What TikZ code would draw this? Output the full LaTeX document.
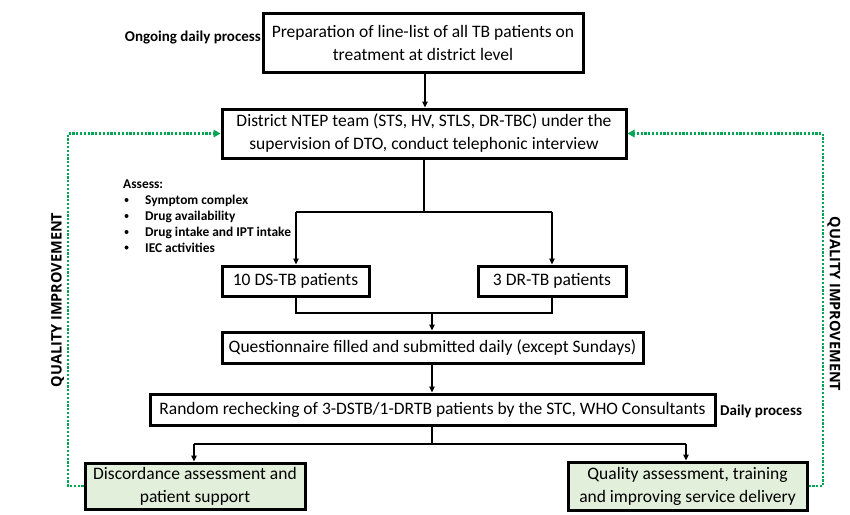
\documentclass[tikz,border=0pt]{standalone}
\usepackage{fontspec}
\setmainfont{Carlito}
\newfontfamily\qifont{Open Sans}
\usetikzlibrary{arrows.meta}
\definecolor{qgreen}{RGB}{0,166,81}
\definecolor{boxgreen}{RGB}{226,239,218}
\begin{document}
\begin{tikzpicture}[x=1pt,y=-1pt,
  box/.style={draw=black,line width=3pt,rectangle,inner sep=0pt,align=center,font=\fontsize{17.5}{23}\selectfont},
  gbox/.style={box,fill=boxgreen},
  conn/.style={line width=1.4pt,-{Triangle[length=6pt,width=5.5pt]}},
  plain/.style={line width=1.4pt},
  qi/.style={draw=qgreen,line width=2.8pt,dash pattern=on 2.2pt off 1.6pt},
  qiarr/.style={qi,-{Triangle[length=7pt,width=7.5pt,fill=qgreen]}},
  lbl/.style={font=\fontsize{15}{18}\selectfont\bfseries,inner sep=0pt},
  alist/.style={font=\fontsize{13.4}{16}\selectfont\bfseries,inner sep=0pt},
  qitext/.style={font=\fontsize{14.5}{16}\qifont\bfseries,inner sep=0pt}
]
\useasboundingbox (0,0) rectangle (850,514);
\fill[white] (0,0) rectangle (850,514);

\node[box,minimum width=320,minimum height=59] (b1) at (423,42.5) {Preparation of line-list of all TB patients on\\treatment at district level};
\node[box,minimum width=404,minimum height=49] (b2) at (424,133.5) {District NTEP team (STS, HV, STLS, DR-TBC) under the\\supervision of DTO, conduct telephonic interview};
\node[box,minimum width=147,minimum height=30] (ds) at (295.5,281) {10 DS-TB patients};
\node[box,minimum width=148,minimum height=30] (dr) at (552,281) {3 DR-TB patients};
\node[box,minimum width=421,minimum height=31] (q) at (432.5,347.5) {Questionnaire filled and submitted daily (except Sundays)};
\node[box,minimum width=565,minimum height=31] (r) at (432.5,409.5) {Random rechecking of 3-DSTB/1-DRTB patients by the STC, WHO Consultants};
\node[gbox,minimum width=220,minimum height=46] (disc) at (195,486) {Discordance assessment and\\patient support};
\node[gbox,minimum width=239,minimum height=48] (qa) at (687.5,486) {Quality assessment, training\\and improving service delivery};

\node[lbl,anchor=east] (ongoing) at (261,38) {Ongoing daily process};
\node[lbl,anchor=west] (daily) at (720,411) {Daily process};
\node[alist,anchor=west] (assess) at (123,184) {Assess:};
\node[alist,anchor=west] (a1) at (145,200.5) {Symptom complex};
\node[alist,anchor=west] (a2) at (145,216.5) {Drug availability};
\node[alist,anchor=west] (a3) at (145,232.5) {Drug intake and IPT intake};
\node[alist,anchor=west] (a4) at (145,248) {IEC activities};
\foreach \yy/\nm in {200/p1,216/p2,232/p3,247.5/p4}{
  \fill (126.5,\yy) circle (2pt) coordinate (\nm);
}

\node[qitext,rotate=90] (qil) at (57.5,300) {QUALITY IMPROVEMENT};
\node[qitext,rotate=-90] (qir) at (834,304) {QUALITY IMPROVEMENT};

% connectors
\draw[conn] (b1.south -| 425,0) -- (b2.north -| 425,0);
\coordinate (j1) at (424,212);
\coordinate (j1l) at (296,212);
\coordinate (j1r) at (552,212);
\draw[plain] (b2.south -| j1) -- (j1);
\draw[plain] (j1l) -- (j1r);
\draw[conn] (j1l) -- (ds.north -| j1l);
\draw[conn] (j1r) -- (dr.north -| j1r);

\coordinate (j2l) at (296,313);
\coordinate (j2r) at (552,313);
\coordinate (j2) at (432,313);
\draw[plain] (ds.south -| j2l) -- (j2l) -- (j2r) -- (dr.south -| j2r);
\draw[conn] (j2) -- (q.north -| j2);
\draw[conn] (q.south -| j2) -- (r.north -| j2);

\coordinate (j3) at (432,444);
\coordinate (j3l) at (194,444);
\coordinate (j3r) at (686,444);
\draw[plain] (r.south -| j3) -- (j3);
\draw[plain] (j3l) -- (j3r);
\draw[conn] (j3l) -- (disc.north -| j3l);
\draw[conn] (j3r) -- (qa.north -| j3r);

% quality improvement loops
\coordinate (gl1) at (68,486);
\coordinate (gl2) at (68,133.5);
\coordinate (gr1) at (823,486);
\coordinate (gr2) at (823,133.5);
\draw[qiarr] (disc.west) -- (gl1) -- (gl2) -- (b2.west);
\draw[qiarr] (qa.east) -- (gr1) -- (gr2) -- (b2.east);
\end{tikzpicture}
\end{document}
